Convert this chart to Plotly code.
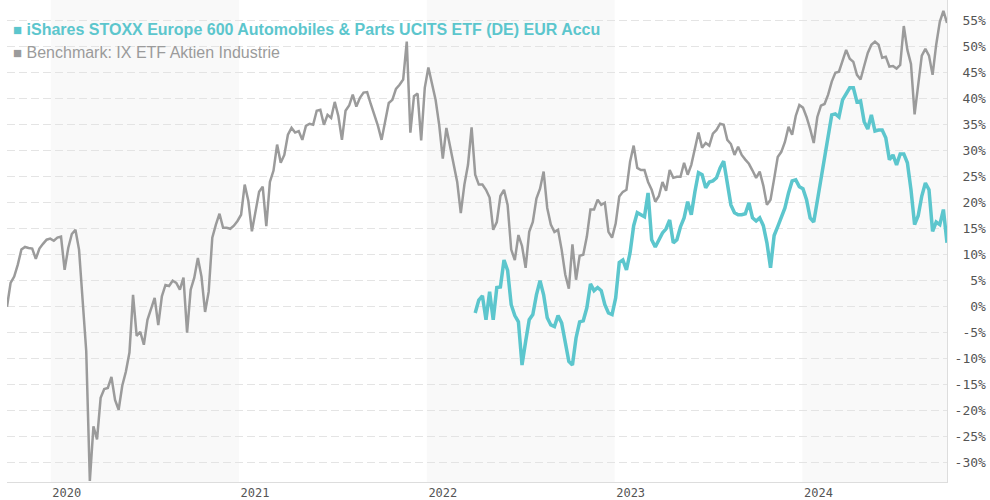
import pandas as pd
import plotly.graph_objects as go

# ---- data (weekly readings, % performance) ----
benchmark_start = "2019-10-08"
benchmark_values = [
    0.0, 4.6, 5.8, 8.1, 11.0, 11.5, 11.3, 11.2, 9.2, 11.2,
    12.1, 12.9, 13.1, 12.7, 13.3, 13.5, 7.1, 11.3, 14.0, 14.8,
    11.0, 1.3, -8.5, -33.5, -23.0, -25.5, -17.5, -15.8, -15.6, -13.5,
    -17.9, -19.8, -15.2, -12.5, -8.8, 2.3, -5.6, -4.8, -7.3, -2.5,
    -0.6, 1.7, -3.5, 2.0, 4.2, 4.0, 5.0, 4.6, 3.3, 5.6,
    -5.0, 3.3, 5.6, 9.4, 5.8, -1.0, 2.9, 13.3, 15.8, 17.9,
    15.2, 15.2, 15.0, 15.6, 16.5, 17.7, 23.5, 20.4, 14.5, 18.5,
    22.1, 23.1, 15.5, 24.0, 26.2, 31.2, 27.7, 29.2, 33.1, 34.4,
    33.5, 33.8, 32.1, 34.8, 35.2, 35.0, 37.7, 37.9, 35.0, 36.9,
    36.3, 39.4, 36.7, 32.1, 37.7, 38.7, 40.8, 38.5, 40.2, 41.2,
    41.3, 39.0, 37.1, 34.8, 32.1, 35.6, 39.2, 39.8, 41.9, 42.7,
    43.7, 51.0, 33.5, 40.5, 41.0, 32.0, 42.1, 46.0, 42.7, 39.8,
    35.0, 28.5, 34.4, 31.0, 27.9, 24.0, 18.0, 23.5, 27.3, 34.5,
    25.4, 23.5, 23.5, 22.5, 21.0, 14.8, 16.3, 21.3, 22.5, 19.6,
    11.0, 9.0, 13.8, 11.7, 7.5, 14.4, 16.3, 20.8, 22.7, 26.0,
    19.0, 15.8, 14.4, 14.8, 11.0, 6.2, 3.5, 12.0, 5.2, 9.8,
    10.0, 13.5, 18.7, 18.7, 20.6, 19.6, 20.0, 14.4, 13.3, 16.0,
    21.2, 22.1, 22.5, 27.9, 31.0, 26.7, 26.3, 26.3, 24.0, 22.5,
    20.2, 21.3, 24.0, 22.3, 26.3, 24.8, 25.0, 25.0, 27.7, 25.4,
    27.3, 30.2, 33.5, 30.6, 31.5, 31.0, 33.3, 34.0, 35.2, 35.0,
    32.1, 31.3, 29.2, 30.8, 29.2, 28.3, 27.5, 26.2, 24.8, 26.0,
    23.3, 19.6, 20.6, 24.6, 28.8, 29.8, 31.7, 34.6, 33.1, 36.7,
    38.8, 38.3, 36.5, 34.2, 31.5, 36.5, 38.7, 39.0, 40.8, 43.3,
    45.0, 45.2, 47.1, 49.4, 47.7, 47.1, 44.6, 43.7, 46.3, 48.8,
    50.4, 51.0, 50.4, 47.9, 48.1, 46.2, 46.3, 45.8, 46.5, 54.0,
    49.4, 46.7, 37.0, 42.5, 48.3, 49.6, 48.3, 44.6, 50.4, 54.8,
    56.9, 54.6,
]

etf_start = "2022-04-05"
etf_values = [
    -1.2, 1.3, 2.1, -2.5, 2.9, -2.5, 3.7, 3.8, 9.0, 7.0,
    0.4, -1.7, -2.9, -11.2, -6.7, -2.5, -1.5, 2.3, 5.0, 2.3,
    -2.1, -3.5, -3.8, -1.7, -3.1, -6.7, -10.5, -11.2, -6.0, -2.9,
    -2.7, -0.2, 4.4, 3.1, 3.7, 3.1, 0.4, -1.2, -1.5, 1.7,
    8.5, 9.0, 7.1, 10.4, 15.6, 18.1, 17.7, 17.3, 21.9, 12.9,
    11.5, 12.9, 14.2, 15.0, 16.7, 12.3, 12.9, 15.4, 17.1, 20.2,
    17.7, 22.1, 25.8, 25.4, 22.9, 24.0, 24.2, 24.8, 26.7, 28.0,
    23.3, 19.6, 18.1, 17.7, 17.7, 17.9, 20.0, 17.1, 16.5, 17.1,
    15.6, 12.3, 7.5, 13.7, 15.4, 17.1, 19.0, 21.9, 24.2, 24.4,
    23.1, 22.7, 20.6, 17.1, 16.3, 20.4, 24.4, 29.0, 32.1, 36.9,
    37.1, 36.5, 39.8, 41.0, 42.1, 42.1, 39.4, 39.6, 35.6, 34.2,
    36.9, 33.8, 34.0, 34.0, 32.5, 28.3, 29.2, 27.3, 29.4, 29.4,
    27.7, 22.5, 15.8, 17.5, 21.3, 23.8, 22.5, 14.5, 16.3, 15.8,
    18.7, 12.3,
]

etf_name = "iShares STOXX Europe 600 Automobiles &amp; Parts UCITS ETF (DE) EUR Accu"
benchmark_name = "Benchmark: IX ETF Aktien Industrie"

y_ticks = [55, 50, 45, 40, 35, 30, 25, 20, 15, 10, 5, 0, -5, -10, -15, -20, -25, -30]
shaded_years = [2020, 2022, 2024]
x_range = ["2019-10-08", "2024-10-08"]

TEAL = "#5cc6cd"
GRAY = "#9b9b9b"

benchmark_dates = pd.date_range(benchmark_start, periods=len(benchmark_values), freq="7D")
etf_dates = pd.date_range(etf_start, periods=len(etf_values), freq="7D")

fig = go.Figure()
fig.add_trace(go.Scatter(x=benchmark_dates, y=benchmark_values, mode="lines",
                         line=dict(color=GRAY, width=2.5), showlegend=False))
fig.add_trace(go.Scatter(x=etf_dates, y=etf_values, mode="lines",
                         line=dict(color=TEAL, width=3.5), showlegend=False))

for yr in shaded_years:
    fig.add_shape(type="rect", xref="x", yref="paper",
                  x0=f"{yr}-01-01", x1=f"{yr + 1}-01-01", y0=0, y1=1,
                  fillcolor="#f9f9f9", line_width=0, layer="below")

width = max(len(f"{v}%") for v in y_ticks)
tick_text = [f"{v}%".rjust(width).replace(" ", "\u00a0") for v in y_ticks]

fig.update_layout(
    width=990, height=500,
    margin=dict(l=7, r=43, t=0, b=18, autoexpand=False),
    plot_bgcolor="rgba(0,0,0,0)", paper_bgcolor="white",
    font=dict(family="DejaVu Sans Mono", size=13, color="#555555"),
    xaxis=dict(type="date", range=x_range, showgrid=False, zeroline=False,
               automargin=False,
               showline=True, linecolor="#dddddd", linewidth=1,
               tick0="2020-01-01", dtick="M12", tickformat="%Y",
               tickfont=dict(size=12),
               ticks="", ticklabelshift=16, ticklabelstandoff=0),
    yaxis=dict(side="right", range=[-33.7, 59.0], tickvals=y_ticks, ticktext=tick_text,
               automargin=False,
               showgrid=True, gridcolor="#e4e4e4", griddash="8px,4px", gridwidth=1,
               zeroline=False, showline=True, linecolor="#dddddd", linewidth=1,
               ticks="", ticklabelstandoff=4),
    annotations=[
        dict(xref="paper", yref="paper", x=0.004, y=0.938, xanchor="left", yanchor="middle",
             showarrow=False,
             text=f"<span style='font-size:15px'>■</span> <b>{etf_name}</b>",
             font=dict(family="Liberation Sans", size=16, color=TEAL)),
        dict(xref="paper", yref="paper", x=0.004, y=0.892, xanchor="left", yanchor="middle",
             showarrow=False,
             text=f"<span style='font-size:15px'>■</span> {benchmark_name}",
             font=dict(family="Liberation Sans", size=16, color=GRAY)),
    ],
)

fig.write_html("out.html", config={"displayModeBar": False},
               post_script="document.body.style.margin='0';document.body.style.overflow='hidden';")
